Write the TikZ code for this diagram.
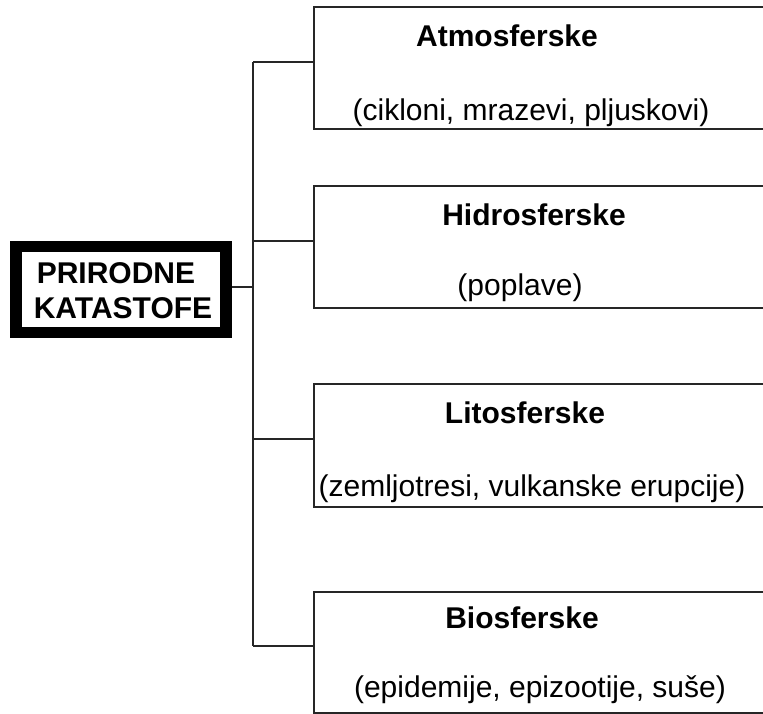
\documentclass[tikz,border=0pt]{standalone}
\usepackage{fontspec}
\setmainfont{Liberation Sans}
\begin{document}
\begin{tikzpicture}[x=1pt,y=-1pt,
  ln/.style={line width=1.6pt, black!85},
  catbox/.style={draw, line width=1.6pt, black!85, rectangle, anchor=north west, minimum width=470pt, inner sep=0pt},
  head/.style={anchor=base, font=\fontsize{30}{36}\selectfont\bfseries, inner sep=0pt},
  sub/.style={anchor=base, font=\fontsize{30}{36}\selectfont, inner sep=0pt},
  rootbox/.style={draw, line width=11.5pt, rectangle, minimum width=210pt, minimum height=86pt, inner sep=0pt}]
\useasboundingbox (0,0) rectangle (763,713);
\clip (0,0) rectangle (763,713);
% root
\node[rootbox] (root) at (121,289.5) {};
\node[head] (r1) at (116,283) {PRIRODNE};
\node[head] (r2) at (123,318) {KATASTOFE};
% category boxes
\node[catbox, minimum height=122pt] (b1) at (313,6) {};
\node[catbox, minimum height=122pt] (b2) at (313,185) {};
\node[catbox, minimum height=123pt] (b3) at (313,383) {};
\node[catbox, minimum height=121pt] (b4) at (313,591) {};
% texts
\node[head] (h1) at (507,46) {Atmosferske};
\node[sub]  (s1) at (531,120) {(cikloni, mrazevi, pljuskovi)};
\node[head] (h2) at (534,225) {Hidrosferske};
\node[sub]  (s2) at (520,295) {(poplave)};
\node[head] (h3) at (525,423) {Litosferske};
\node[sub]  (s3) at (532,496) {(zemljotresi, vulkanske erupcije)};
\node[head] (h4) at (522,628) {Biosferske};
\node[sub]  (s4) at (540,697) {(epidemije, epizootije, suše)};
% connectors
\coordinate (t1) at (253,62);
\coordinate (t2) at (253,241);
\coordinate (t3) at (253,439);
\coordinate (t4) at (253,646);
\coordinate (tr) at (253,287);
\draw[ln] (t1) -- (t4);
\draw[ln] (t1) -- (t1 -| b1.west);
\draw[ln] (t2) -- (t2 -| b2.west);
\draw[ln] (t3) -- (t3 -| b3.west);
\draw[ln] (t4) -- (t4 -| b4.west);
\draw[ln] (root.east |- tr) -- (tr);
\end{tikzpicture}
\end{document}
